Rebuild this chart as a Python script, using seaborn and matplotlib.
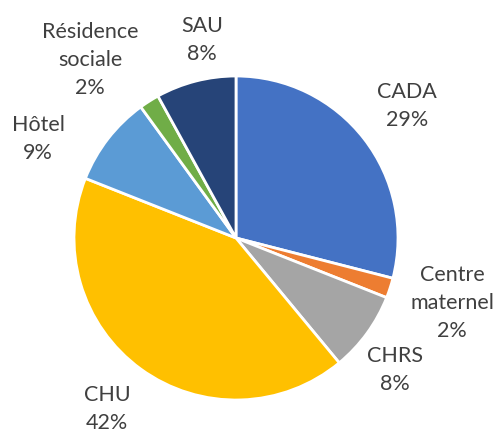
import matplotlib
matplotlib.use("Agg")
import matplotlib.pyplot as plt
import seaborn as sns

# Répartition des places d'hébergement par type de structure (%)
categories = ["CADA", "Centre\nmaternel", "CHRS", "CHU", "Hôtel", "Résidence\nsociale", "SAU"]
shares = [29, 2, 8, 42, 9, 2, 8]
colors = ["#4472C4", "#ED7D31", "#A5A5A5", "#FFC000", "#5B9BD5", "#70AD47", "#264478"]

# Label block centres (in units of the pie radius)
label_pos = [(1.056, 0.815), (1.333, -0.401), (0.981, -0.815), (-0.797, -1.056),
             (-1.222, 0.611), (-0.901, 1.099), (-0.210, 1.222)]

sns.set_theme(style="white")
plt.rcParams["font.family"] = ["Lato", "DejaVu Sans"]

fig = plt.figure(figsize=(4.99, 4.32), dpi=100)
ax = fig.add_axes([0, 0, 1, 1])

wedges, _ = ax.pie(
    shares,
    colors=colors,
    startangle=90,
    counterclock=False,
    radius=1.0,
    wedgeprops=dict(edgecolor="white", linewidth=2.0),
)

for name, val, (x, y) in zip(categories, shares, label_pos):
    ax.text(x, y, f"{name}\n{val}%", ha="center", va="center",
            fontsize=15.5, color="#404040", linespacing=1.48)

r = 162.0
ax.set_xlim(-236 / r, (499 - 236) / r)
ax.set_ylim(-(432 - 238) / r, 238 / r)
ax.set_aspect("equal")
ax.axis("off")

fig.savefig("out.png", dpi=100, facecolor="white")
